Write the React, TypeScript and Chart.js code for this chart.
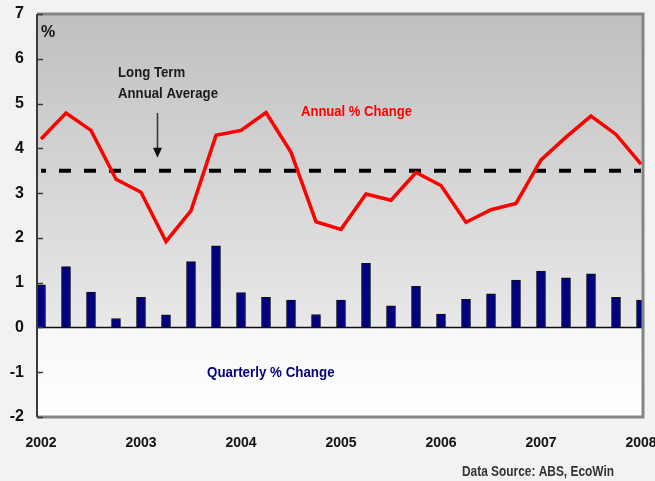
import React, { useEffect, useRef } from "react";
import { Chart, registerables } from "chart.js";

Chart.register(...registerables);

const quarterLabels = [
  "2002 Q1", "2002 Q2", "2002 Q3", "2002 Q4",
  "2003 Q1", "2003 Q2", "2003 Q3", "2003 Q4",
  "2004 Q1", "2004 Q2", "2004 Q3", "2004 Q4",
  "2005 Q1", "2005 Q2", "2005 Q3", "2005 Q4",
  "2006 Q1", "2006 Q2", "2006 Q3", "2006 Q4",
  "2007 Q1", "2007 Q2", "2007 Q3", "2007 Q4",
  "2008 Q1",
];
const yearLabels = ["2002", "2003", "2004", "2005", "2006", "2007", "2008"];
const quarterlyChange = [
  0.95, 1.36, 0.79, 0.2, 0.67, 0.28, 1.47, 1.82, 0.78, 0.67, 0.61, 0.29, 0.61,
  1.43, 0.48, 0.92, 0.3, 0.63, 0.75, 1.06, 1.26, 1.11, 1.2, 0.67, 0.61,
];
const annualChange = [
  4.21, 4.79, 4.4, 3.31, 3.02, 1.92, 2.61, 4.29, 4.4, 4.8, 3.91, 2.36, 2.19,
  2.98, 2.84, 3.46, 3.17, 2.35, 2.63, 2.77, 3.74, 4.25, 4.72, 4.31, 3.65,
];
const longTermAverage = 3.5;
const yTickValues = [-2, -1, 0, 1, 2, 3, 4, 5, 6, 7];

const FONT = "'Liberation Sans', Arial, sans-serif";

function narrowText(ctx: any, text: string, x: number, y: number, sx: number, align: string) {
  ctx.save();
  ctx.translate(x, y);
  ctx.scale(sx, 1);
  ctx.textAlign = align;
  ctx.fillText(text, 0, 0);
  ctx.restore();
}

const decorPlugin = {
  id: "decor",
  beforeDraw(chart: any) {
    const { ctx, chartArea: a, scales } = chart;
    ctx.save();
    ctx.fillStyle = "#f2f2f2";
    ctx.fillRect(0, 0, chart.width, chart.height);
    const y0 = scales.y.getPixelForValue(0);
    const g1 = ctx.createLinearGradient(0, a.top, 0, y0);
    g1.addColorStop(0, "#c0c0c0");
    g1.addColorStop(1, "#e8e8e8");
    ctx.fillStyle = g1;
    ctx.fillRect(a.left, a.top, a.right - a.left, y0 - a.top);
    const g2 = ctx.createLinearGradient(0, y0, 0, a.bottom);
    g2.addColorStop(0, "#f7f7f7");
    g2.addColorStop(1, "#ffffff");
    ctx.fillStyle = g2;
    ctx.fillRect(a.left, y0, a.right - a.left, a.bottom - y0);
    ctx.restore();
  },
  beforeDatasetsDraw(chart: any) {
    const { ctx, chartArea: a, scales } = chart;
    const y0 = scales.y.getPixelForValue(0);
    ctx.save();
    ctx.strokeStyle = "#111";
    ctx.lineWidth = 1.5;
    ctx.beginPath();
    ctx.moveTo(a.left, y0);
    ctx.lineTo(a.right, y0);
    ctx.stroke();
    ctx.restore();
  },
  afterDraw(chart: any) {
    const { ctx, chartArea: a, scales } = chart;
    const xs = scales.x;
    const ys = scales.y;
    ctx.save();
    // frame
    ctx.strokeStyle = "#858585";
    ctx.lineWidth = 3;
    ctx.beginPath();
    ctx.moveTo(a.left, a.top);
    ctx.lineTo(a.right, a.top);
    ctx.lineTo(a.right, a.bottom);
    ctx.lineTo(a.left, a.bottom);
    ctx.stroke();
    ctx.strokeStyle = "#3a3a3a";
    ctx.lineWidth = 2;
    ctx.beginPath();
    ctx.moveTo(a.left, a.top);
    ctx.lineTo(a.left, a.bottom);
    ctx.stroke();
    // inward ticks
    ctx.lineWidth = 1.5;
    yTickValues.forEach((v) => {
      const py = Math.round(ys.getPixelForValue(v)) + 0.5;
      ctx.beginPath();
      ctx.moveTo(a.left, py);
      ctx.lineTo(a.left + 6, py);
      ctx.stroke();
    });
    // annotations
    ctx.textBaseline = "alphabetic";
    ctx.fillStyle = "#111";
    ctx.font = `bold 16px ${FONT}`;
    narrowText(ctx, "%", xs.getPixelForValue(0), ys.getPixelForValue(6.49), 1, "left");
    ctx.font = `bold 15px ${FONT}`;
    const sx = 0.88;
    ctx.fillStyle = "#1a1a1a";
    narrowText(ctx, "Long Term", xs.getPixelForValue(3.08), ys.getPixelForValue(5.59), sx, "left");
    narrowText(ctx, "Annual Average", xs.getPixelForValue(3.08), ys.getPixelForValue(5.12), sx, "left");
    ctx.fillStyle = "#ff0000";
    narrowText(ctx, "Annual % Change", xs.getPixelForValue(10.4), ys.getPixelForValue(4.73), 0.87, "left");
    ctx.fillStyle = "#000080";
    narrowText(ctx, "Quarterly % Change", xs.getPixelForValue(6.64), ys.getPixelForValue(-1.11), 0.89, "left");
    // arrow
    const ax = Math.round(xs.getPixelForValue(4.64)) + 0.5;
    const ayTop = ys.getPixelForValue(4.79);
    const ayTip = ys.getPixelForValue(3.79);
    ctx.strokeStyle = "#333";
    ctx.fillStyle = "#111";
    ctx.lineWidth = 1.5;
    ctx.beginPath();
    ctx.moveTo(ax, ayTop);
    ctx.lineTo(ax, ayTip - 8);
    ctx.stroke();
    ctx.beginPath();
    ctx.moveTo(ax - 4.5, ayTip - 10);
    ctx.lineTo(ax + 4.5, ayTip - 10);
    ctx.lineTo(ax, ayTip);
    ctx.closePath();
    ctx.fill();
    // source
    ctx.fillStyle = "#333";
    ctx.font = `bold 14px ${FONT}`;
    narrowText(ctx, "Data Source: ABS, EcoWin", chart.width - 41, chart.height - 5, 0.85, "right");
    ctx.restore();
  },
};

export default function App() {
  const ref = useRef<HTMLCanvasElement | null>(null);
  useEffect(() => {
    if (!ref.current) return;
    const chart = new Chart(ref.current, {
      type: "bar",
      data: {
        datasets: [
          {
            type: "line",
            label: "Long Term Annual Average",
            data: quarterLabels.map((_, i) => ({ x: i, y: longTermAverage })),
            borderColor: "#000",
            borderWidth: 4,
            borderDash: [12, 13],
            borderDashOffset: 7,
            pointRadius: 0,
            order: 1,
          } as any,
          {
            type: "line",
            label: "Annual % Change",
            data: quarterLabels.map((_, i) => ({ x: i, y: annualChange[i] })),
            borderColor: "#ff0000",
            borderWidth: 3.5,
            pointRadius: 0,
            tension: 0,
            order: 0,
          } as any,
          {
            type: "bar",
            label: "Quarterly % Change",
            data: quarterLabels.map((_, i) => ({ x: i, y: quarterlyChange[i] })),
            backgroundColor: "#000080",
            borderColor: "#111",
            borderWidth: 1,
            barThickness: 9,
            order: 2,
          } as any,
        ],
      },
      options: {
        responsive: false,
        animation: false,
        events: [],
        layout: { padding: { left: 0, top: 14, right: 12, bottom: 0 } },
        plugins: { legend: { display: false }, tooltip: { enabled: false } },
        scales: {
          x: {
            type: "linear",
            offset: false,
            min: -0.16,
            max: 24.08,
            grid: { display: false, drawTicks: false, offset: false },
            border: { display: false },
            afterBuildTicks: (s: any) => {
              s.ticks = yearLabels.map((_, i) => ({ value: i * 4 }));
            },
            afterFit: (s: any) => {
              s.height = 64;
              s.paddingLeft = 0;
              s.paddingRight = 0;
            },
            ticks: {
              autoSkip: false,
              maxRotation: 0,
              padding: 18,
              color: "#111",
              font: { family: FONT, size: 14, weight: "bold" },
              callback: (v: any) => yearLabels[Math.round(Number(v) / 4)],
            },
          },
          y: {
            min: -2,
            max: 7,
            grid: { display: false, drawTicks: false },
            border: { display: false },
            afterBuildTicks: (s: any) => {
              s.ticks = yTickValues.map((v) => ({ value: v }));
            },
            afterFit: (s: any) => {
              s.width = 37;
              s.paddingTop = 0;
              s.paddingBottom = 0;
            },
            ticks: {
              padding: 13,
              color: "#111",
              font: { family: FONT, size: 16, weight: "bold" },
            },
          },
        },
      },
      plugins: [decorPlugin],
    });
    return () => chart.destroy();
  }, []);
  return (
    <div style={{ position: "fixed", left: 0, top: 0, width: 655, height: 481 }}>
      <canvas ref={ref} width={655} height={481} />
    </div>
  );
}
